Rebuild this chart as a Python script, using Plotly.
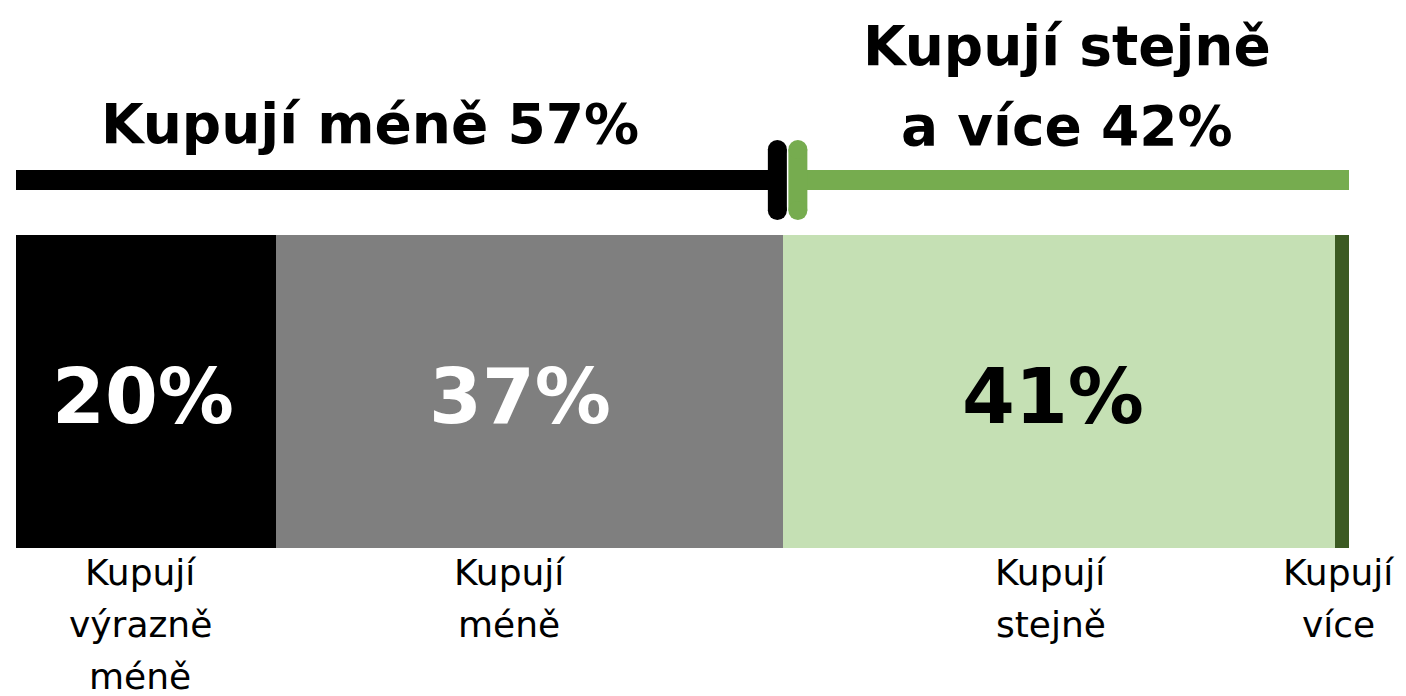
import plotly.graph_objects as go

# ---- data ----
categories = ["Kupují výrazně méně", "Kupují méně", "Kupují stejně", "Kupují více"]
values = [19.5, 38.0, 41.4, 1.05]          # bar segment shares (%)
value_labels = ["20%", "37%", "41%", ""]
group_titles = ["Kupují méně 57%", "Kupují stejně<br>a více 42%"]
group_sizes = [2, 2]                        # number of segments in each group

# ---- style ----
seg_colors = ["#000000", "#7f7f7f", "#c5e0b4", "#3b5a22"]
text_colors = ["#ffffff", "#ffffff", "#000000", "#000000"]
group_colors = ["#000000", "#76ac4f"]
FONT = "DejaVu Sans"
PAGE_W, PAGE_H = 1406, 696
OFF = 8                                     # page body margin
W, H = PAGE_W - OFF, PAGE_H - OFF
X0_PX, X1_PX = 16, 1349                     # page pixels of bar ends

total = sum(values)
px_per_unit = (X1_PX - X0_PX) / total
def px(d):  # pixel distance -> data units
    return d / px_per_unit

bases = []
acc = 0.0
for v in values:
    bases.append(acc)
    acc += v

fig = go.Figure()

# stacked bar segments
BAR_Y, BAR_W = 391.5, 313
for i, (c, v) in enumerate(zip(categories, values)):
    fig.add_trace(go.Bar(
        orientation="h", y=[BAR_Y], x=[v], base=[bases[i]], width=BAR_W,
        marker=dict(color=seg_colors[i], line=dict(width=0)),
        hoverinfo="skip", showlegend=False, name=c,
    ))

# value labels inside the segments
value_shift = [-px(3), -px(9), -px(6), 0]
for i, t in enumerate(value_labels):
    if not t:
        continue
    fig.add_annotation(x=bases[i] + values[i] / 2 + value_shift[i], y=396, xref="x", yref="y",
                       text=t, showarrow=False, xanchor="center", yanchor="middle",
                       font=dict(family=FONT, size=76, color=text_colors[i], weight="bold"))

# category labels under the bar, one annotation per line
label_shift = [-px(6), -px(20), -px(8), -px(4)]
for i, c in enumerate(categories):
    words = c.split(" ")
    cx = bases[i] + values[i] / 2 + label_shift[i]
    for j, w in enumerate(words):
        fig.add_annotation(x=cx, y=572 + 52 * j, xref="x", yref="y", text=w,
                           showarrow=False, xanchor="center", yanchor="middle",
                           font=dict(family=FONT, size=36, color="#000000"))

# group lines, dividers and titles
split = bases[group_sizes[0]]
LINE_Y = 180
fig.add_trace(go.Scatter(x=[0, split - px(10)], y=[LINE_Y, LINE_Y], mode="lines",
                         line=dict(color=group_colors[0], width=20),
                         hoverinfo="skip", showlegend=False))
fig.add_trace(go.Scatter(x=[split + px(15), total], y=[LINE_Y, LINE_Y], mode="lines",
                         line=dict(color=group_colors[1], width=20),
                         hoverinfo="skip", showlegend=False))
for xc, col in [(split - px(5.5), group_colors[0]), (split + px(15), group_colors[1])]:
    fig.add_trace(go.Scatter(x=[xc, xc], y=[149.5, 210.5], mode="lines+markers",
                             line=dict(color=col, width=19),
                             marker=dict(color=col, size=19, line=dict(width=0)),
                             hoverinfo="skip", showlegend=False))

# titles (one annotation per line)
title_centers = [(0 + split) / 2 - px(29), (split + total) / 2 + px(1)]
title_bottoms = [124, 126]
for t, cx, yb in zip(group_titles, title_centers, title_bottoms):
    lines = t.split("<br>")
    n = len(lines)
    for j, ln in enumerate(lines):
        fig.add_annotation(x=cx, y=yb - 80 * (n - 1 - j), xref="x", yref="y",
                           text=ln, showarrow=False, xanchor="center", yanchor="middle",
                           font=dict(family=FONT, size=55, color="#000000", weight="bold"))

fig.update_layout(
    width=W, height=H, margin=dict(l=0, r=0, t=0, b=0),
    paper_bgcolor="#ffffff", plot_bgcolor="#ffffff",
    barmode="overlay", bargap=0,
    xaxis=dict(domain=[(X0_PX - OFF) / W, (X1_PX - OFF) / W], range=[0, total],
               visible=False, fixedrange=True),
    yaxis=dict(domain=[0, 1], range=[PAGE_H, OFF], visible=False, fixedrange=True),
)
fig.write_html("out.html")
